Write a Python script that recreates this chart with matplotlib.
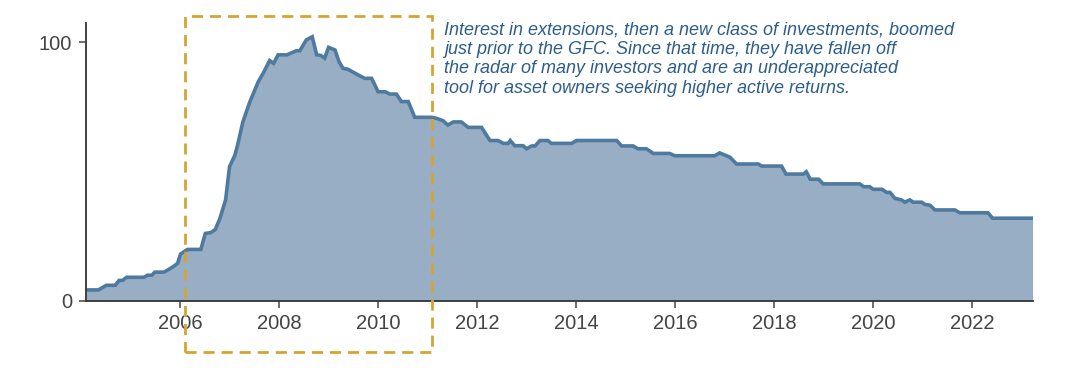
import matplotlib
matplotlib.use("Agg")
import matplotlib.pyplot as plt
from matplotlib.patches import Rectangle
import numpy as np

plt.rcParams['font.family'] = ['Liberation Sans', 'DejaVu Sans']

# search interest, decimal year -> index
years = [
    2004.10, 2004.35, 2004.51, 2004.69, 2004.77, 2004.84, 2004.92, 2005.27,
    2005.34, 2005.43, 2005.49, 2005.68, 2005.86, 2005.95, 2006.01, 2006.15,
    2006.42, 2006.51, 2006.62, 2006.71, 2006.80, 2006.92, 2007.00, 2007.11,
    2007.17, 2007.27, 2007.41, 2007.58, 2007.68, 2007.81, 2007.89, 2007.98,
    2008.16, 2008.35, 2008.42, 2008.55, 2008.67, 2008.76, 2008.84, 2008.92,
    2009.00, 2009.13, 2009.21, 2009.29, 2009.39, 2009.60, 2009.73, 2009.87,
    2010.00, 2010.14, 2010.24, 2010.37, 2010.47, 2010.61, 2010.74, 2011.08,
    2011.18, 2011.31, 2011.41, 2011.52, 2011.68, 2011.82, 2012.09, 2012.26,
    2012.42, 2012.53, 2012.63, 2012.67, 2012.76, 2012.93, 2013.00, 2013.10,
    2013.17, 2013.27, 2013.43, 2013.50, 2013.91, 2014.01, 2014.82, 2014.92,
    2015.15, 2015.25, 2015.42, 2015.56, 2015.89, 2015.99, 2016.80, 2016.90,
    2017.00, 2017.11, 2017.24, 2017.68, 2017.75, 2018.15, 2018.24, 2018.59,
    2018.65, 2018.73, 2018.90, 2018.99, 2019.73, 2019.81, 2019.93, 2020.00,
    2020.18, 2020.27, 2020.34, 2020.44, 2020.57, 2020.64, 2020.74, 2020.81,
    2020.98, 2021.04, 2021.15, 2021.25, 2021.65, 2021.75, 2022.32, 2022.41,
    2023.22,
]
interest = [
    4.1, 4.1, 5.9, 5.9, 7.8, 7.8, 9.0, 9.0,
    9.8, 9.8, 11.0, 11.0, 13.1, 14.4, 18.0, 19.8,
    19.8, 26.0, 26.3, 27.5, 31.5, 39.0, 51.9, 56.4,
    60.9, 69.3, 77.0, 84.8, 88.1, 93.0, 91.9, 95.2,
    95.2, 96.8, 96.8, 101.0, 102.2, 95.2, 95.0, 93.9,
    98.1, 97.1, 92.6, 90.0, 89.6, 87.4, 86.1, 86.1,
    80.9, 80.9, 80.0, 80.0, 77.1, 77.1, 71.0, 71.0,
    70.6, 69.7, 68.0, 69.2, 69.2, 67.1, 67.1, 62.0,
    62.0, 60.9, 60.9, 62.0, 60.0, 60.0, 58.8, 59.9,
    59.9, 62.0, 62.0, 60.9, 60.9, 62.0, 62.0, 59.9,
    59.9, 58.8, 58.8, 57.0, 57.0, 56.1, 56.1, 57.2,
    56.4, 55.5, 52.9, 52.9, 52.1, 52.1, 49.0, 49.0,
    49.9, 47.0, 47.0, 45.2, 45.2, 44.1, 44.1, 43.1,
    43.1, 41.9, 41.9, 39.6, 39.0, 38.1, 39.0, 38.1,
    38.1, 37.3, 36.9, 35.1, 35.1, 34.0, 34.0, 31.9,
    31.9,
]
xticks = [2006, 2008, 2010, 2012, 2014, 2016, 2018, 2020, 2022]
yticks = [0, 100]
highlight = (2006.09, 2011.09)  # boom period box

note = ("Interest in extensions, then a new class of investments, boomed\n"
        "just prior to the GFC. Since that time, they have fallen off\n"
        "the radar of many investors and are an underappreciated\n"
        "tool for asset owners seeking higher active returns.")

fig = plt.figure(figsize=(10.79, 3.71), dpi=100)
ax = fig.add_axes([0.0797, 0.19, 0.8777, 0.747])

ax.fill_between(years, interest, 0, color='#98aec4', lw=0)
ax.plot(years, interest, color='#4f7aa0', lw=2.6, solid_joinstyle='miter')

ax.set_xlim(2004.10, 2023.23)
ax.set_ylim(0, 107.4)
ax.set_xticks(xticks)
ax.set_xticklabels([str(y) for y in xticks])
ax.set_yticks(yticks)

for s in ['top', 'right']:
    ax.spines[s].set_visible(False)
for s in ['left', 'bottom']:
    ax.spines[s].set_color('#333333')
    ax.spines[s].set_linewidth(1.3)
ax.tick_params(length=5, width=1.2, color='#555555', labelcolor='#444444',
               labelsize=14.5, pad=5)

rect = Rectangle((highlight[0], -20), highlight[1] - highlight[0], 130.3,
                 fill=False, ec='#d4a535', lw=2, ls=(0, (4, 2.5)),
                 clip_on=False, zorder=5)
ax.add_patch(rect)

ax.text(2011.33, 108.3, note, fontsize=13, style='italic', color='#2c5d8c',
        va='top', ha='left', linespacing=1.2)

fig.savefig('out.png', dpi=100)
